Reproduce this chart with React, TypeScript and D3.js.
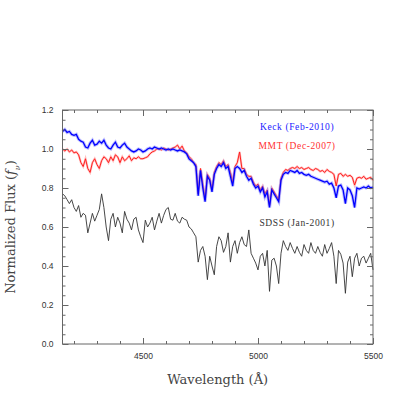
import React, { useEffect, useRef } from 'react';
import * as d3 from 'd3';

// wavelength grid (Angstrom), 10 A steps
const waveStart = 4150;
const waveStep = 10;

const keckFlux = [
  1.09, 1.10, 1.085, 1.09, 1.075, 1.07, 1.075, 1.05, 1.04, 1.035,
  1.01, 1.005, 1.03, 1.045, 1.02, 1.025, 1.04, 1.03, 1.045, 1.02,
  1.005, 1.0, 1.02, 1.035, 1.01, 1.005, 1.02, 1.03, 1.01, 1.0,
  0.99, 0.985, 0.99, 1.0, 0.995, 0.985, 0.99, 1.0, 1.005, 1.0,
  1.01, 1.005, 1.0, 1.005, 1.0, 0.995, 1.0, 0.995, 1.0, 0.995,
  0.99, 0.995, 0.99, 0.985, 0.975, 0.95, 0.94, 0.93, 0.91, 0.76,
  0.89, 0.80, 0.73, 0.86, 0.84, 0.78, 0.87, 0.90, 0.92, 0.91,
  0.93, 0.90, 0.91, 0.86, 0.81, 0.90, 0.91, 0.90, 0.88, 0.89,
  0.86, 0.84, 0.85, 0.82, 0.80, 0.81, 0.78, 0.80, 0.755, 0.78,
  0.70, 0.79, 0.77, 0.75, 0.73, 0.84, 0.87, 0.88, 0.875, 0.89,
  0.885, 0.88, 0.89, 0.875, 0.88, 0.87, 0.865, 0.87, 0.86, 0.855,
  0.85, 0.845, 0.84, 0.835, 0.83, 0.835, 0.82, 0.825, 0.80, 0.75,
  0.81, 0.815, 0.79, 0.72, 0.80, 0.79, 0.76, 0.70, 0.80, 0.795,
  0.80, 0.805, 0.80, 0.81, 0.80, 0.805,
];

const mmtFlux = [
  1.0, 0.99, 1.0, 0.985, 0.995, 0.98, 0.985, 0.97, 0.93, 0.91,
  0.95, 0.90, 0.88, 0.93, 0.95, 0.92, 0.90, 0.94, 0.96, 0.95,
  0.93, 0.96, 0.94, 0.97, 0.96, 0.93, 0.96, 0.94, 0.95, 0.965,
  0.94, 0.955, 0.95, 0.96, 0.95, 0.95, 0.955, 0.96, 0.975, 0.985,
  0.99, 1.0, 1.0, 0.995, 1.005, 1.0, 0.995, 1.0, 1.005, 1.01,
  1.02, 1.0, 1.015, 0.99, 0.98, 0.96, 0.95, 0.93, 0.92, 0.77,
  0.90, 0.82, 0.74, 0.87, 0.85, 0.79, 0.88, 0.91, 0.93, 0.92,
  0.94, 0.91, 0.92, 0.88, 0.83, 0.91, 0.93, 0.985, 0.90, 0.90,
  0.87, 0.86, 0.86, 0.83, 0.81, 0.82, 0.79, 0.81, 0.77, 0.79,
  0.71, 0.80, 0.78, 0.76, 0.74, 0.85, 0.88, 0.895, 0.89, 0.90,
  0.905, 0.90, 0.91, 0.90, 0.905, 0.895, 0.90, 0.905, 0.895, 0.89,
  0.90, 0.895, 0.885, 0.89, 0.88, 0.895, 0.885, 0.88, 0.87, 0.81,
  0.87, 0.875, 0.86, 0.87, 0.86, 0.865, 0.855, 0.815, 0.85, 0.855,
  0.85, 0.86, 0.845, 0.85, 0.855, 0.84,
];

const sdssFlux = [
  0.77, 0.76, 0.74, 0.72, 0.74, 0.70, 0.68, 0.71, 0.65, 0.67,
  0.66, 0.57, 0.62, 0.67, 0.63, 0.66, 0.69, 0.77, 0.70, 0.60,
  0.53, 0.64, 0.67, 0.60, 0.65, 0.62, 0.57, 0.68, 0.64, 0.62,
  0.585, 0.64, 0.65, 0.585, 0.55, 0.52, 0.635, 0.60, 0.62, 0.65,
  0.585, 0.63, 0.67, 0.62, 0.66, 0.69, 0.70, 0.64, 0.635, 0.67,
  0.63, 0.62, 0.65, 0.64, 0.635, 0.60, 0.59, 0.57, 0.55, 0.42,
  0.48, 0.50, 0.45, 0.33, 0.45, 0.40, 0.355, 0.50, 0.55, 0.53,
  0.47, 0.50, 0.57, 0.42, 0.50, 0.53, 0.465, 0.52, 0.55, 0.51,
  0.50, 0.585, 0.465, 0.44, 0.415, 0.38, 0.45, 0.465, 0.40, 0.48,
  0.27, 0.43, 0.44, 0.40, 0.31, 0.465, 0.53, 0.50, 0.48, 0.52,
  0.49, 0.465, 0.50, 0.47, 0.45, 0.51, 0.48, 0.465, 0.52, 0.48,
  0.465, 0.50, 0.47, 0.45, 0.51, 0.465, 0.49, 0.52, 0.45, 0.31,
  0.48, 0.46, 0.415, 0.26, 0.42, 0.45, 0.345, 0.44, 0.465, 0.40,
  0.44, 0.45, 0.415, 0.44, 0.465, 0.38,
];

const xMajorTicks = [4500, 5000, 5500];
const xMinorTicks = [4200, 4300, 4400, 4600, 4700, 4800, 4900, 5100, 5200, 5300, 5400];
const yMajorTicks = [0, 0.2, 0.4, 0.6, 0.8, 1.0, 1.2];

const labels = [
  { text: 'Keck (Feb-2010)', color: '#1a1aff', value: 1.117 },
  { text: 'MMT (Dec-2007)', color: '#ff3030', value: 1.015 },
  { text: 'SDSS (Jan-2001)', color: '#333333', value: 0.622 },
];

const App = () => {
  const ref = useRef<SVGSVGElement>(null);

  useEffect(() => {
    const svg = d3.select(ref.current);
    svg.selectAll('*').remove();

    const left = 62.5, right = 373, top = 110, bottom = 344;
    const x = d3.scaleLinear().domain([4150, 5500]).range([left, right]);
    const y = d3.scaleLinear().domain([0, 1.2]).range([bottom, top]);
    const axisColor = '#666';

    const toPoints = (arr: number[]) => arr.map((v, i) => [waveStart + i * waveStep, v] as [number, number]);
    const line = d3.line<[number, number]>().x(d => x(d[0])).y(d => y(d[1]));

    const plot = svg.append('g');
    plot.append('path').datum(toPoints(sdssFlux))
      .attr('d', line).attr('fill', 'none').attr('stroke', '#333').attr('stroke-width', 0.9);

    plot.append('path').datum(toPoints(mmtFlux))
      .attr('d', line).attr('fill', 'none').attr('stroke', '#ff8080').attr('stroke-width', 2.2).attr('opacity', 0.5);
    plot.append('path').datum(toPoints(mmtFlux))
      .attr('d', line).attr('fill', 'none').attr('stroke', '#ff2020').attr('stroke-width', 1);

    plot.append('path').datum(toPoints(keckFlux))
      .attr('d', line).attr('fill', 'none').attr('stroke', '#7070ff').attr('stroke-width', 3.2).attr('opacity', 0.45);
    plot.append('path').datum(toPoints(keckFlux))
      .attr('d', line).attr('fill', 'none').attr('stroke', '#0000ff').attr('stroke-width', 1.3);

    // frame
    svg.append('rect')
      .attr('x', left).attr('y', top).attr('width', right - left).attr('height', bottom - top)
      .attr('fill', 'none').attr('stroke', axisColor).attr('stroke-width', 1);

    const style = (g: any) => {
      g.select('.domain').remove();
      g.selectAll('line').attr('stroke', axisColor);
      g.selectAll('text').attr('fill', '#333').style('font-family', '"Liberation Sans", Arial, sans-serif').style('font-size', '8.5px');
    };

    // bottom / top
    svg.append('g').attr('transform', `translate(0,${bottom})`)
      .call(d3.axisBottom(x).tickValues(xMinorTicks).tickSize(-3).tickFormat(() => '')).call(style);
    svg.append('g').attr('transform', `translate(0,${bottom})`)
      .call(d3.axisBottom(x).tickValues(xMajorTicks).tickSize(-6).tickPadding(9).tickFormat(d3.format('d'))).call(style);
    svg.append('g').attr('transform', `translate(0,${top})`)
      .call(d3.axisTop(x).tickValues(xMinorTicks).tickSize(-3).tickFormat(() => '')).call(style);
    svg.append('g').attr('transform', `translate(0,${top})`)
      .call(d3.axisTop(x).tickValues(xMajorTicks).tickSize(-6).tickFormat(() => '')).call(style);

    // left / right
    const yMinor = d3.range(0, 1.2001, 0.05).filter(v => Math.abs(Math.round(v * 5) - v * 5) > 1e-6);
    svg.append('g').attr('transform', `translate(${left},0)`)
      .call(d3.axisLeft(y).tickValues(yMinor).tickSize(-3).tickFormat(() => '')).call(style);
    svg.append('g').attr('transform', `translate(${left},0)`)
      .call(d3.axisLeft(y).tickValues(yMajorTicks).tickSize(-6).tickPadding(9).tickFormat(d3.format('.1f'))).call(style);
    svg.append('g').attr('transform', `translate(${right},0)`)
      .call(d3.axisRight(y).tickValues(yMinor).tickSize(-3).tickFormat(() => '')).call(style);
    svg.append('g').attr('transform', `translate(${right},0)`)
      .call(d3.axisRight(y).tickValues(yMajorTicks).tickSize(-6).tickFormat(() => '')).call(style);

    // series labels
    svg.append('g').selectAll('text').data(labels).enter().append('text')
      .attr('x', x(5170)).attr('y', d => y(d.value))
      .attr('text-anchor', 'middle').attr('dy', '0.35em')
      .attr('fill', d => d.color)
      .style('font-family', '"Liberation Serif", "Times New Roman", serif')
      .style('font-size', '9.5px')
      .style('letter-spacing', '0.6px')
      .text(d => d.text);

    // axis titles
    svg.append('text')
      .attr('x', (left + right) / 2).attr('y', 384)
      .attr('text-anchor', 'middle').attr('fill', '#444')
      .style('font-family', '"DejaVu Serif", serif').style('font-size', '13px')
      .text('Wavelength (Å)');

    const yTitle = svg.append('text')
      .attr('transform', `translate(15,${(top + bottom) / 2}) rotate(-90)`)
      .attr('text-anchor', 'middle').attr('fill', '#444')
      .style('font-family', '"DejaVu Serif", serif').style('font-size', '13px');
    yTitle.append('tspan').text('Normalized Flux (');
    yTitle.append('tspan').style('font-style', 'italic').text('f');
    yTitle.append('tspan').attr('baseline-shift', 'sub').style('font-size', '8px').style('font-style', 'italic').text('ν');
    yTitle.append('tspan').text(')');
  }, []);

  return (
    <svg ref={ref} width={407} height={407} style={{ position: 'absolute', left: 0, top: 0, background: '#fff' }} />
  );
};

export default App;
